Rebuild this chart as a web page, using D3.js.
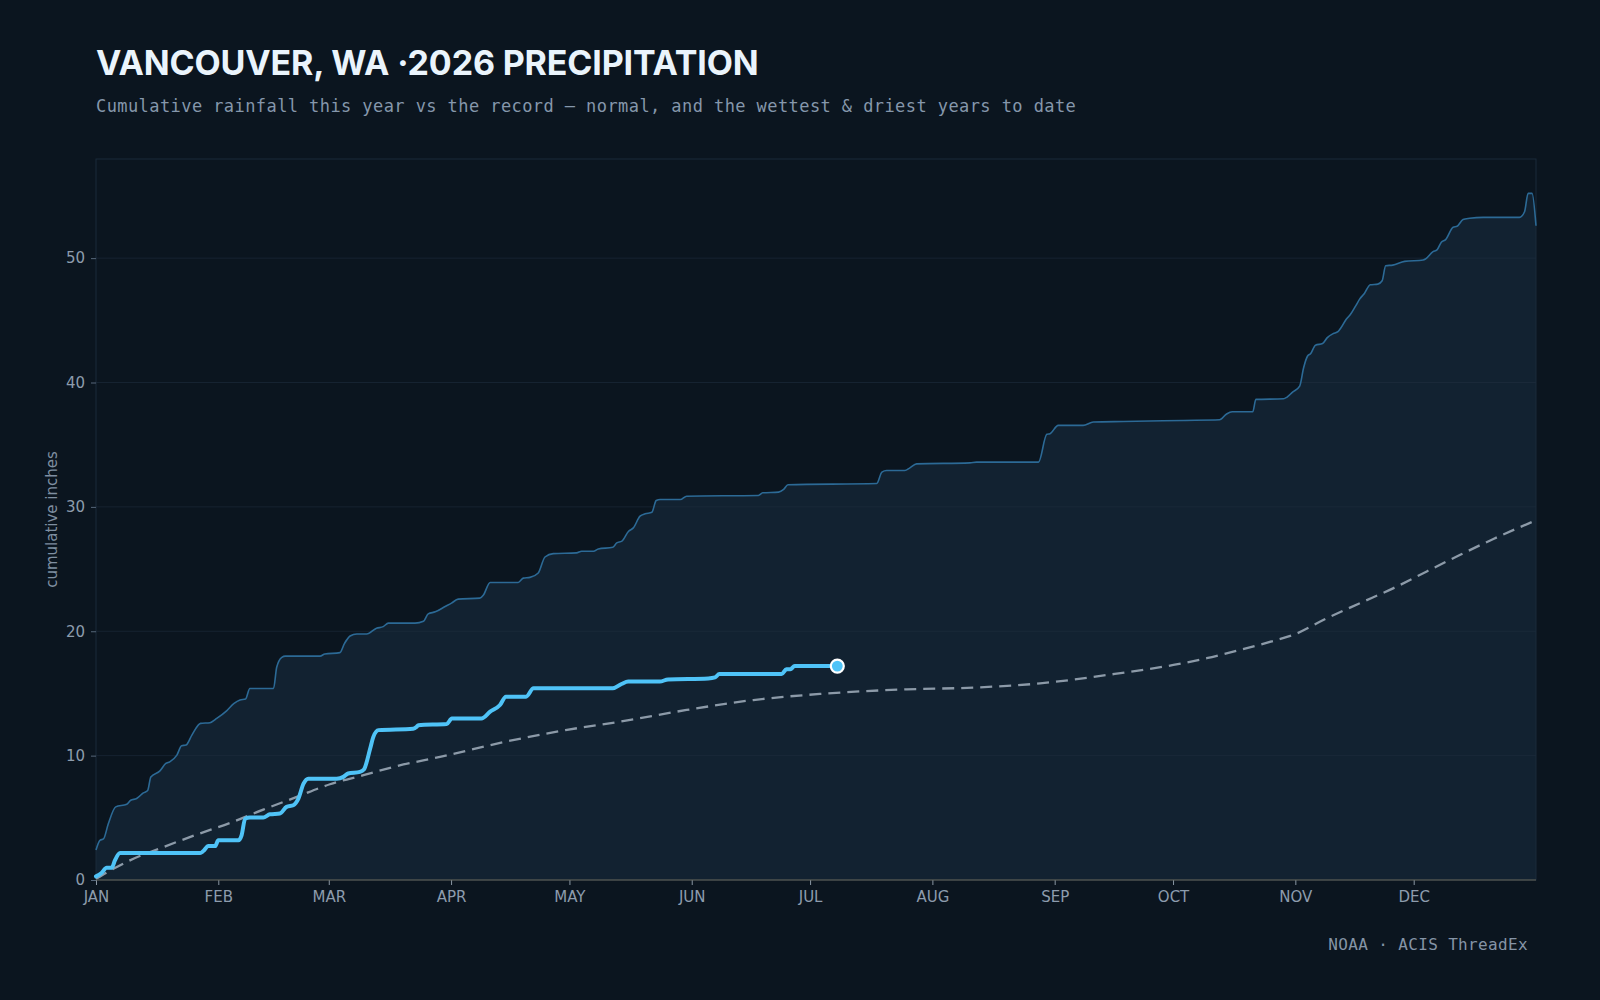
<!DOCTYPE html>
<html>
<head>
<meta charset="utf-8">
<script src="https://cdn.jsdelivr.net/npm/d3@7"></script>
<style>
  html, body { margin: 0; padding: 0; background: #0b151f; }
  svg { display: block; }
</style>
</head>
<body>
<svg id="chart" width="1600" height="1000"></svg>
<script>
// ---- data (day-of-year index, Jan 1 = 0) ----
const monthLabels = ["JAN","FEB","MAR","APR","MAY","JUN","JUL","AUG","SEP","OCT","NOV","DEC"];
const monthStartDays = [0,31,59,90,120,151,181,212,243,273,304,334];
const yTicks = [0,10,20,30,40,50];

const wettestDays = [0,1,1.9,3.1,5,7.8,8.8,10.3,12,13.1,13.9,16.2,17.7,18.7,20.5,21.7,22.8,24.3,26.5,28.9,30.6,33.1,35,36.5,37.9,39,45,45.8,47.1,48,56.8,58,61.8,63,64.4,66.1,68.6,71.1,72.8,74.1,80.9,83,84.2,86,88.5,90.1,91.8,97.3,98.2,99.9,107,108.3,110,112.1,113.8,115.9,121.8,123.1,126.1,127.3,131,132,133.3,135,136.2,137.9,139.2,140.9,142,143,148.1,149.7,167.9,169,173,174.3,175.4,197.9,199.2,200.4,205,206.3,208,221.5,223.2,238.9,241,241.8,243.9,250.2,252.8,260.4,275.6,284.8,286.5,288,292.5,293.2,294,301,301.9,303.3,305.1,306.1,307.1,307.9,309.1,310.9,312.1,313.6,314.8,315.6,316.9,317.9,319.3,320.3,321.5,323,324.9,326,326.9,328.7,331.7,336.4,337,338.9,339.9,341,342.1,344,345,346.5,348.2,351.6,360.8,362.1,363,364,365];
const wettestValues = [2.41,3.19,3.3,4.5,5.88,6.09,6.41,6.55,7.0,7.2,8.29,8.77,9.37,9.5,10.04,10.8,10.85,11.65,12.59,12.65,12.99,13.6,14.2,14.47,14.55,15.4,15.4,17.1,17.9,18.0,18.0,18.17,18.28,19.03,19.62,19.78,19.78,20.24,20.37,20.65,20.65,20.8,21.4,21.56,21.99,22.26,22.58,22.66,22.92,23.92,23.92,24.27,24.33,24.68,25.97,26.24,26.3,26.43,26.43,26.62,26.75,27.1,27.24,28.04,28.31,29.25,29.44,29.57,30.51,30.59,30.59,30.86,30.92,31.13,31.19,31.4,31.78,31.88,32.79,32.92,32.92,33.14,33.46,33.54,33.6,33.6,35.83,35.88,36.55,36.55,36.82,36.87,36.95,37.0,37.45,37.65,37.65,37.65,38.64,38.69,38.83,39.23,39.71,41.19,42.13,42.34,43.0,43.13,43.61,43.93,44.09,44.42,45.09,45.44,46.16,46.7,47.16,47.86,47.91,48.18,49.39,49.44,49.74,49.85,49.93,50.52,50.66,51.28,51.49,52.48,52.56,53.1,53.2,53.28,53.28,53.73,55.21,55.21,52.6];

const currentDays = [0,1.4,2.7,4,4.8,6.1,26.4,27.2,28.5,30.2,31,36.1,36.9,37.8,39,42.4,44.1,46.6,48.3,50,51.3,52.6,53.8,61,62.7,63.9,66.9,67.9,69.5,70.3,71.6,80.4,81.3,81.7,88.9,90.2,97.7,99.9,102.4,103.9,109,110.9,131,133.2,134.9,142.9,145,155.2,156.9,158,173.8,175,176,177.1,187.9];
const currentValues = [0.29,0.56,0.99,0.99,1.58,2.17,2.17,2.33,2.73,2.73,3.19,3.19,3.59,4.93,5.02,5.02,5.28,5.34,5.88,6.01,6.54,7.75,8.15,8.15,8.29,8.56,8.69,8.88,10.57,11.51,12.05,12.16,12.32,12.45,12.54,12.99,12.99,13.53,14.07,14.74,14.74,15.41,15.41,15.76,15.95,15.95,16.13,16.21,16.29,16.56,16.56,16.94,16.94,17.2,17.2];

const normalDays = [0,4.4,8.6,17.1,25.5,34,42.4,50.9,59.3,67.8,76.2,87.2,105,119,132.8,149.7,166.6,183.5,205.5,222.4,239.3,256.2,273.1,281.5,290,298.4,303.5,312,320.4,328.9,337.3,345.8,354.2,365];
const normalValues = [0.1,0.9,1.58,2.65,3.65,4.59,5.66,6.68,7.7,8.43,9.15,9.9,11.2,12.05,12.73,13.67,14.47,14.96,15.33,15.47,15.81,16.48,17.29,17.83,18.5,19.22,19.71,21.05,22.26,23.47,24.81,26.15,27.42,28.92];

const titleText = "VANCOUVER, WA \u00B72026 PRECIPITATION";
const subtitleText = "Cumulative rainfall this year vs the record \u2014 normal, and the wettest & driest years to date";
const sourceText = "NOAA \u00B7 ACIS ThreadEx";
const yLabelText = "cumulative inches";

// ---- layout ----
const W = 1600, H = 1000;
const margin = {top: 159, right: 64, bottom: 120, left: 96};
const iw = W - margin.left - margin.right;
const ih = H - margin.top - margin.bottom;

const zip = (xs, ys) => xs.map((d, i) => ({d, v: ys[i]}));
const wettest = zip(wettestDays, wettestValues);
const current = zip(currentDays, currentValues);
const normal = zip(normalDays, normalValues);

const svg = d3.select("#chart");
svg.append("rect").attr("width", W).attr("height", H).attr("fill", "#0b151f");

const x = d3.scaleLinear().domain([0, 365]).range([0, iw]);
const y = d3.scaleLinear().domain([0, d3.max(wettestValues) * 1.05]).range([ih, 0]);

const g = svg.append("g").attr("transform", `translate(${margin.left},${margin.top})`);

// band area (0 -> wettest)
g.append("path")
  .datum(wettest)
  .attr("fill", "#122231")
  .attr("d", d3.area().x(p => x(p.d)).y0(y(0)).y1(p => y(p.v)).curve(d3.curveMonotoneX));

// gridlines
g.append("g").selectAll("line").data(yTicks.filter(t => t > 0)).join("line")
  .attr("x1", 0).attr("x2", iw)
  .attr("y1", t => y(t)).attr("y2", t => y(t))
  .attr("stroke", "#20303f").attr("stroke-opacity", 0.55).attr("stroke-width", 1);

// frame
g.append("rect").attr("x", 0).attr("y", 0).attr("width", iw).attr("height", ih)
  .attr("fill", "none").attr("stroke", "#1a2b3b").attr("stroke-width", 1);

// wettest line
g.append("path")
  .datum(wettest)
  .attr("fill", "none").attr("stroke", "#2c6a96").attr("stroke-width", 1.6)
  .attr("stroke-linejoin", "round")
  .attr("d", d3.line().x(p => x(p.d)).y(p => y(p.v)).curve(d3.curveMonotoneX));

// normal line
g.append("path")
  .datum(normal)
  .attr("fill", "none").attr("stroke", "#8c9aa8").attr("stroke-width", 2.3)
  .attr("stroke-dasharray", "12,7")
  .attr("d", d3.line().x(p => x(p.d)).y(p => y(p.v)).curve(d3.curveMonotoneX));

// current year line
g.append("path")
  .datum(current)
  .attr("fill", "none").attr("stroke", "#4fc3f7").attr("stroke-width", 4)
  .attr("stroke-linejoin", "round").attr("stroke-linecap", "round")
  .attr("d", d3.line().x(p => x(p.d)).y(p => y(p.v)).curve(d3.curveMonotoneX));

const last = current[current.length - 1];
g.append("circle")
  .attr("cx", x(last.d)).attr("cy", y(last.v)).attr("r", 6.5)
  .attr("fill", "#4fc3f7").attr("stroke", "#ffffff").attr("stroke-width", 2.2);

// axes
const xAxis = g.append("g").attr("transform", `translate(0,${ih})`)
  .call(d3.axisBottom(x).tickValues(monthStartDays).tickFormat((d, i) => monthLabels[i]).tickSize(5).tickPadding(6));
xAxis.select(".domain").remove();
xAxis.selectAll(".tick line").attr("stroke", "#8a97a4");
xAxis.selectAll(".tick text").attr("fill", "#8d9cad")
  .style("font-family", "'DejaVu Sans', sans-serif").style("font-size", "15px");

const yAxis = g.append("g")
  .call(d3.axisLeft(y).tickValues(yTicks).tickFormat(d3.format("d")).tickSize(5).tickPadding(6));
yAxis.select(".domain").remove();
yAxis.selectAll(".tick line").attr("stroke", "#56677a");
yAxis.selectAll(".tick text").attr("fill", "#8d9cad")
  .style("font-family", "'DejaVu Sans', sans-serif").style("font-size", "15px");

// baseline
g.append("line").attr("x1", 0).attr("x2", iw).attr("y1", y(0)).attr("y2", y(0))
  .attr("stroke", "#66675a").attr("stroke-width", 1.2);

// y label
svg.append("text")
  .attr("transform", `translate(57,${margin.top + ih / 2}) rotate(-90)`)
  .attr("text-anchor", "middle")
  .attr("fill", "#7f8fa1")
  .style("font-family", "'DejaVu Sans', sans-serif").style("font-size", "15px")
  .text(yLabelText);

// title / subtitle / source
svg.append("text").attr("x", 96).attr("y", 75)
  .attr("fill", "#eaf4fc")
  .style("font-family", "Inter, 'Noto Sans', sans-serif").style("font-weight", "700").style("font-size", "34px")
  .style("letter-spacing", "-0.15px")
  .text(titleText);

svg.append("text").attr("x", 96).attr("y", 112)
  .attr("fill", "#8597ab")
  .style("font-family", "'DejaVu Sans Mono', monospace").style("font-size", "17px").style("letter-spacing", "0.42px")
  .text(subtitleText);

svg.append("text").attr("x", 1528).attr("y", 950)
  .attr("text-anchor", "end")
  .attr("fill", "#8594a6")
  .style("font-family", "'DejaVu Sans Mono', monospace").style("font-size", "16px").style("letter-spacing", "0.35px")
  .text(sourceText);
</script>
</body>
</html>
